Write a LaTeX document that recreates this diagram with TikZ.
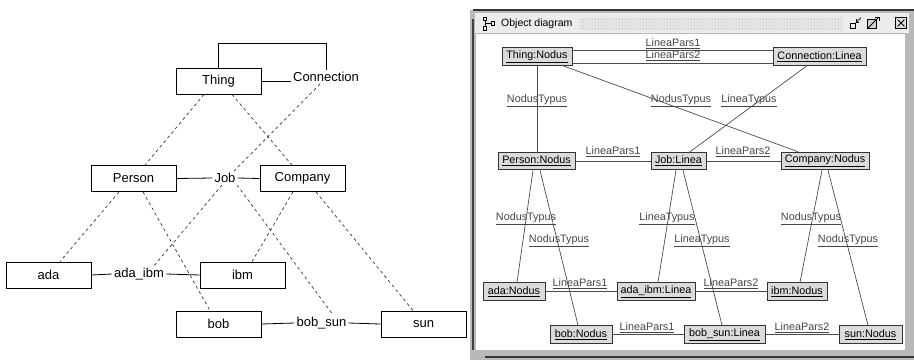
\documentclass[tikz,border=0pt]{standalone}
\usepackage{fontspec}
\setmainfont{Liberation Sans}
\usetikzlibrary{patterns}

\begin{document}
\begin{tikzpicture}[x=1pt,y=-1pt,
  cls/.style={draw=black, line width=0.8pt, fill=white, minimum width=85pt,
    minimum height=26pt, inner sep=0pt, font=\fontsize{13}{15}\selectfont},
  assoc/.style={inner sep=2pt, fill=white, font=\fontsize{13}{15}\selectfont},
  solidline/.style={draw=black, line width=0.8pt},
  isa/.style={draw=gray!45!black, line width=0.7pt, dash pattern=on 3pt off 3pt},
  obj/.style={draw=black!80, line width=1pt, fill=gray!28, minimum height=17.5pt,
    inner sep=0pt, font=\fontsize{10.8}{12}\selectfont},
  role/.style={text=gray!55!black, inner sep=0pt, font=\fontsize{10.8}{12}\selectfont},
  link/.style={draw=gray!60!black, line width=0.7pt}]

\useasboundingbox (0,0) rectangle (914,360);
\fill[white] (0,0) rectangle (914,360);

% ---------------- class level ----------------
\node[cls] (thing)   at (218.5,81)  {Thing};
\node[cls] (person)  at (133.5,178.5) {Person};
\node[cls] (company) at (302.5,178.5) {Company};
\node[cls] (ada)     at (48.5,275)  {ada};
\node[cls] (ibm)     at (242.5,275) {ibm};
\node[cls] (bob)     at (218.5,324) {bob};
\node[cls] (sun)     at (423.5,324) {sun};

\node[assoc] (conn)   at (326,77)  {Connection};
\node[assoc] (job)    at (225,178) {Job};
\node[assoc] (adaibm) at (139,274) {ada\_ibm};
\node[assoc] (bobsun) at (321.5,323) {bob\_sun};

% self link of Thing through Connection
\draw[solidline] (thing.north) -- ++(0,-24) -| (conn.north);
\draw[solidline] (thing.east) -- (thing.east -| conn.west);

% association links
\draw[solidline] (person.east) -- (job.west);
\draw[solidline] (job.east) -- (company.west);
\draw[solidline] (ada.east) -- (adaibm.west);
\draw[solidline] (adaibm.east) -- (ibm.west);
\draw[solidline] (bob.east) -- (bobsun.west);
\draw[solidline] (bobsun.east) -- (sun.west);

% instance-of links
\draw[isa] ([xshift=-14.5pt]thing.south) -- ([xshift=11.5pt]person.north);
\draw[isa] ([xshift=13.5pt]thing.south) -- ([xshift=-10.5pt]company.north);
\draw[isa] ([xshift=-6pt]conn.south) -- ([xshift=9pt]job.north);
\draw[isa] ([xshift=-14.5pt]person.south) -- ([xshift=11.5pt]ada.north);
\draw[isa] ([xshift=9.5pt]person.south) -- ([xshift=-8.5pt]bob.north);
\draw[isa] ([xshift=-3pt]job.south) -- ([xshift=15pt]adaibm.north);
\draw[isa] ([xshift=12pt]job.south) -- ([xshift=11.5pt]bobsun.north);
\draw[isa] ([xshift=-9.5pt]company.south) -- ([xshift=9.5pt]ibm.north);
\draw[isa] ([xshift=13.5pt]company.south) -- ([xshift=-10.5pt]sun.north);

% ---------------- window ----------------
\fill[gray!55] (470,10) rectangle (914,360);
\fill[gray!15] (475,13) rectangle (909,33);
\fill[gray!15] (580,17) rectangle (843,30);
\fill[pattern=crosshatch dots, pattern color=gray!60] (580,17) rectangle (843,30);
\fill[white] (476,34) rectangle (905,350);
\draw[black!80, line width=1.5pt] (473,10) -- (914,10);
\draw[black!75, line width=1.2pt] (473,19) -- (473,350);
\draw[black!80, line width=1.2pt] (485,357) -- (914,357);

% window icon and title
\node[draw=black, line width=0.7pt, minimum size=3.5pt, inner sep=0pt] (ia) at (485,19) {};
\node[draw=black, line width=0.7pt, minimum size=3.5pt, inner sep=0pt] (ib) at (485,28.5) {};
\node[draw=black, line width=0.7pt, minimum size=3.5pt, inner sep=0pt] (ic) at (493,23.5) {};
\draw[line width=0.6pt] (ia.south) -- (ib.north);
\draw[line width=0.6pt] (ia.south |- ic.west) -- (ic.west);
\node[anchor=west, inner sep=0pt, font=\fontsize{10.5}{12}\selectfont] (title) at (501,24) {Object diagram};

% window buttons
\node[draw=black, line width=0.8pt, minimum size=5pt, inner sep=0pt] (mina) at (853,25.5) {};
\draw[line width=0.7pt] (mina.north east) -- ++(5,-5);
\draw[line width=0.7pt] (mina.north east) -- ++(3.5,0) (mina.north east) -- ++(0,-3.5);
\node[draw=black, line width=0.8pt, minimum size=9pt, inner sep=0pt, fill=gray!35] (maxa) at (872,24) {};
\draw[line width=0.8pt] (maxa.south west) -- ++(11,-11);
\draw[line width=0.7pt] (maxa.north east) ++(2,-2) -- ++(-4,0) (maxa.north east) ++(2,-2) -- ++(0,4);
\node[draw=black, line width=0.8pt, minimum size=11pt, inner sep=0pt, fill=gray!25] (closea) at (901,23) {};
\draw[line width=0.9pt] ([shift={(2.5,2.5)}]closea.north west) -- ([shift={(-2.5,-2.5)}]closea.south east);
\draw[line width=0.9pt] ([shift={(-2.5,2.5)}]closea.north east) -- ([shift={(2.5,-2.5)}]closea.south west);

% ---------------- object level ----------------
\node[obj, minimum width=70pt] (tn)  at (537,56.5)  {\underline{Thing:Nodus}};
\node[obj, minimum width=93pt] (cl)  at (819.5,56.5) {\underline{Connection:Linea}};
\node[obj, minimum width=77pt] (pn)  at (536.5,161) {\underline{Person:Nodus}};
\node[obj, minimum width=55pt] (jl)  at (678.5,161) {\underline{Job:Linea}};
\node[obj, minimum width=88pt] (cn)  at (825,161)   {\underline{Company:Nodus}};
\node[obj, minimum width=62pt] (an)  at (514,291.5) {\underline{ada:Nodus}};
\node[obj, minimum width=78pt] (ail) at (656,291.5) {\underline{ada\_ibm:Linea}};
\node[obj, minimum width=60pt] (in)  at (797,291.5) {\underline{ibm:Nodus}};
\node[obj, minimum width=62pt] (bn)  at (581,334.5) {\underline{bob:Nodus}};
\node[obj, minimum width=81pt] (bsl) at (724.5,334.5) {\underline{bob\_sun:Linea}};
\node[obj, minimum width=63pt] (sn)  at (870.5,334.5) {\underline{sun:Nodus}};

% links between objects, from border to border
\draw[link] ([yshift=6.5pt]tn.east) -- ([yshift=6.5pt]cl.west);
\draw[link] ([yshift=-6.5pt]tn.east) -- ([yshift=-6.5pt]cl.west);
\draw[link] (tn.south) -- (tn.south |- pn.north);
\draw[link] ([xshift=26pt]tn.south) -- ([xshift=-27pt]cn.north);
\draw[link] ([xshift=-12.5pt]cl.south) -- ([xshift=11.5pt]jl.north);
\draw[link] (pn.east) -- (jl.west);
\draw[link] (jl.east) -- (cn.west);
\draw[link] ([xshift=-3.5pt]pn.south) -- ([xshift=3pt]an.north);
\draw[link] ([xshift=3.5pt]pn.south) -- ([xshift=-3pt]bn.north);
\draw[link] ([xshift=-2.5pt]jl.south) -- ([xshift=2pt]ail.north);
\draw[link] ([xshift=4.5pt]jl.south) -- ([xshift=-2.5pt]bsl.north);
\draw[link] ([xshift=-3pt]cn.south) -- ([xshift=3pt]in.north);
\draw[link] ([xshift=3pt]cn.south) -- ([xshift=-2.5pt]sn.north);
\draw[link] (an.east) -- (ail.west);
\draw[link] (ail.east) -- (in.west);
\draw[link] (bn.east) -- (bsl.west);
\draw[link] (bsl.east) -- (sn.west);

% role labels
\node[role] (r1)  at (673,44)  {\underline{LineaPars1}};
\node[role] (r2)  at (673,56)  {\underline{LineaPars2}};
\node[role] (r3)  at (537,101) {\underline{NodusTypus}};
\node[role] (r4)  at (681,101) {\underline{NodusTypus}};
\node[role] (r5)  at (749,101) {\underline{LineaTypus}};
\node[role] (r6)  at (613,152) {\underline{LineaPars1}};
\node[role] (r7)  at (743,152) {\underline{LineaPars2}};
\node[role] (r8)  at (526,219) {\underline{NodusTypus}};
\node[role] (r9)  at (559,241) {\underline{NodusTypus}};
\node[role] (r10) at (667,219) {\underline{LineaTypus}};
\node[role] (r11) at (702,241) {\underline{LineaTypus}};
\node[role] (r12) at (811,219) {\underline{NodusTypus}};
\node[role] (r13) at (848,241) {\underline{NodusTypus}};
\node[role] (r14) at (580,284) {\underline{LineaPars1}};
\node[role] (r15) at (731,284) {\underline{LineaPars2}};
\node[role] (r16) at (647,328) {\underline{LineaPars1}};
\node[role] (r17) at (802,328) {\underline{LineaPars2}};
\end{tikzpicture}
\end{document}
